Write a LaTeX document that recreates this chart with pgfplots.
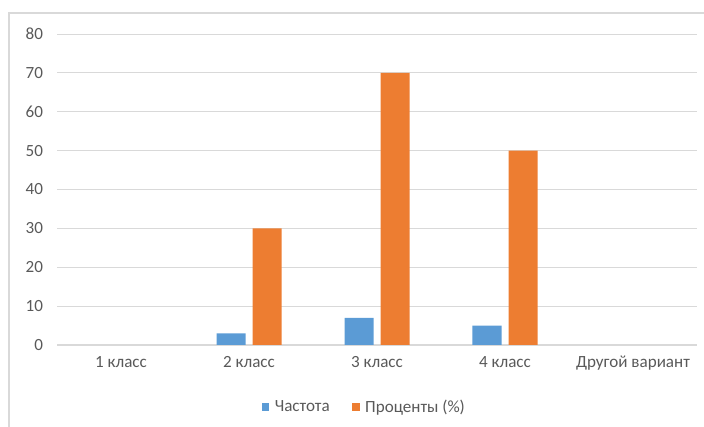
\documentclass[border=0pt]{standalone}
\usepackage{pgfplots}
\pgfplotsset{compat=1.18}
\usepackage{fontspec}
\setmainfont{Carlito}
\definecolor{cblue}{HTML}{5B9BD5}
\definecolor{corange}{HTML}{ED7D31}
\definecolor{cgrid}{HTML}{D9D9D9}
\definecolor{ctext}{HTML}{595959}
\begin{document}
\begin{tikzpicture}
\path[use as bounding box] (0,0) rectangle (528pt,-320.25pt);
\draw[cgrid, line width=0.9pt] (6.75pt,-330pt) -- (6.75pt,-9.75pt) -- (535pt,-9.75pt);
\begin{axis}[
  at={(42.75pt,-258.75pt)}, anchor=south west,
  scale only axis, width=480pt, height=233.25pt,
  ybar=5.25pt, bar width=21.75pt,
  xmin=-0.5, xmax=4.5, ymin=0, ymax=80,
  xtick={0,1,2,3,4},
  xticklabels={1 класс, 2 класс, 3 класс, 4 класс, Другой вариант},
  ytick={0,10,...,80},
  major tick length=0pt,
  axis x line*=bottom, axis y line*=left,
  y axis line style={draw=none},
  ymajorgrids, grid style={cgrid, line width=0.75pt},
  x axis line style={cgrid, line width=0.9pt, -},
  tick label style={font=\fontsize{12.8}{14}\selectfont, text=ctext},
  /pgf/number format/assume math mode=true,
  xticklabel style={yshift=-5pt},
  yticklabel style={xshift=-7pt},
  legend style={at={(0.483,-0.199)}, anchor=center, draw=none, fill=none,
    legend columns=2, font=\fontsize{12.8}{14}\selectfont, text=ctext,
    nodes={inner xsep=4pt},
    /tikz/every even column/.append style={column sep=13pt}},
  legend image code/.code={\fill (0pt,-2.8pt) rectangle (5.6pt,2.8pt);},
  enlarge x limits=false,
]
\addplot[fill=cblue, draw=none] coordinates {(1,3) (2,7) (3,5)};
\addplot[fill=corange, draw=none] coordinates {(1,30) (2,70) (3,50)};
\legend{Частота, Проценты (\%)}
\end{axis}
\end{tikzpicture}
\end{document}
